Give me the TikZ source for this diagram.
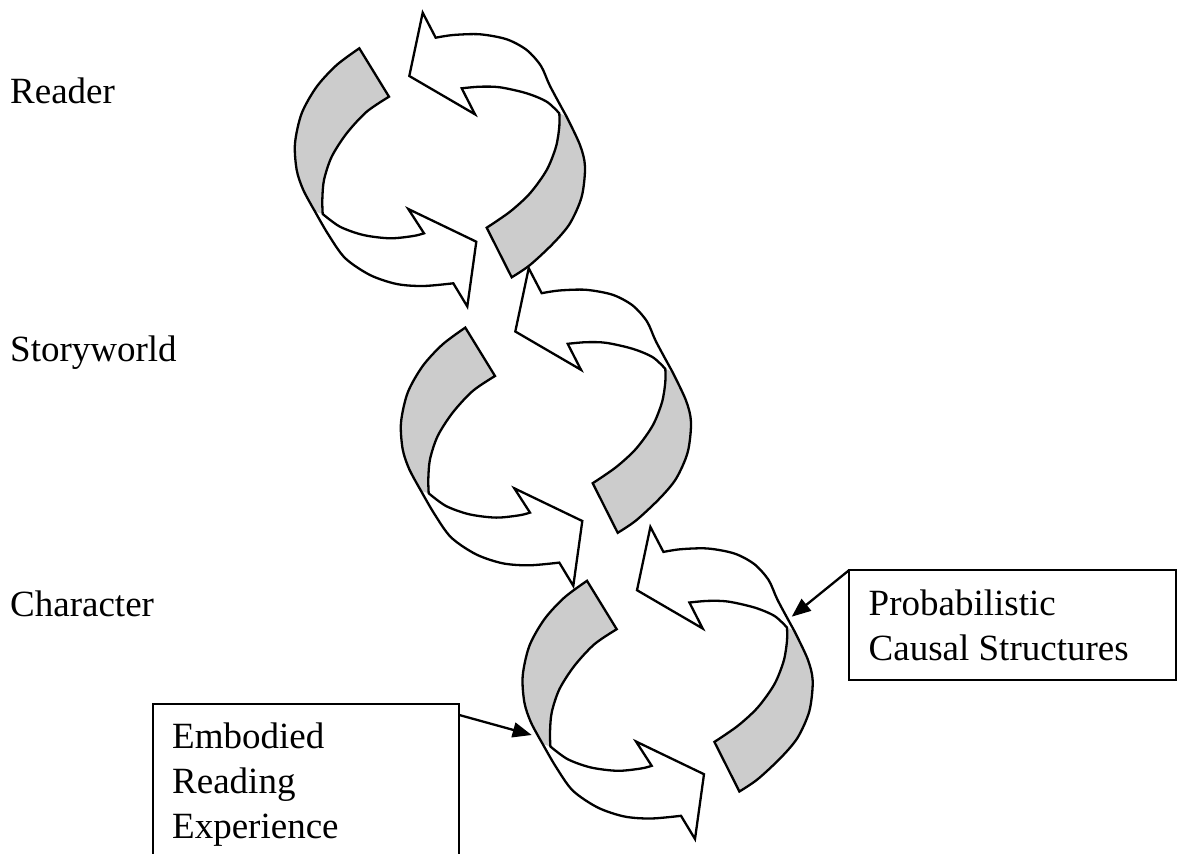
\documentclass[tikz,border=0pt]{standalone}
\usepackage{fontspec}
\setmainfont{Liberation Serif}
\usetikzlibrary{arrows.meta}
\begin{document}
\begin{tikzpicture}[x=1pt,y=-1pt,
  outl/.style={line width=2.3pt, line join=miter, miter limit=20},
  backface/.style={fill=black!20},
  lbl/.style={anchor=base west, inner sep=0pt, font=\fontsize{37}{45}\selectfont},
  conn/.style={line width=2.3pt, -{Triangle[length=19pt,width=15pt]}},
  boxline/.style={line width=1.7pt},
  arrowA/.pic={
    \fill[white] (409.3,76) -- (422.7,12.7) -- (435.7,37.7)
      -- plot[smooth] coordinates {(435.7,37.7) (453.3,35) (480,34.3) (506.7,39.3) (526.7,50) (541,66) (550,86) (566.5,116.5)}
      -- plot[smooth] coordinates {(566.5,116.5) (580,145) (585,166.7) (581.7,196.7) (570,223.3) (553.3,243.3) (530,265) (511.7,277.3)}
      -- (486.7,227.7)
      -- plot[smooth] coordinates {(486.7,227.7) (510,211.7) (530,193.3) (546.7,170) (556,146.7) (559.3,126.7) (559.3,113.3)}
      -- plot[smooth] coordinates {(559.3,113.3) (546.7,101.7) (526.7,93.3) (500,87.3) (480,86.7) (461.7,88.3)}
      -- (475,114.3) -- cycle;
    \fill[backface] (559.3,113.3) -- (566.5,116.5)
      -- plot[smooth] coordinates {(566.5,116.5) (580,145) (585,166.7) (581.7,196.7) (570,223.3) (553.3,243.3) (530,265) (511.7,277.3)}
      -- (486.7,227.7)
      -- plot[smooth] coordinates {(486.7,227.7) (510,211.7) (530,193.3) (546.7,170) (556,146.7) (559.3,126.7) (559.3,113.3)}
      -- cycle;
    \draw[outl] (409.3,76) -- (422.7,12.7) -- (435.7,37.7)
      -- plot[smooth] coordinates {(435.7,37.7) (453.3,35) (480,34.3) (506.7,39.3) (526.7,50) (541,66) (550,86) (566.5,116.5)}
      -- plot[smooth] coordinates {(566.5,116.5) (580,145) (585,166.7) (581.7,196.7) (570,223.3) (553.3,243.3) (530,265) (511.7,277.3)}
      -- (486.7,227.7)
      -- plot[smooth] coordinates {(486.7,227.7) (510,211.7) (530,193.3) (546.7,170) (556,146.7) (559.3,126.7) (559.3,113.3)}
      -- plot[smooth] coordinates {(559.3,113.3) (546.7,101.7) (526.7,93.3) (500,87.3) (480,86.7) (461.7,88.3)}
      -- (475,114.3) -- cycle;
  },
  arrowB/.pic={
    \fill[white] (359.3,48.3)
      -- plot[smooth] coordinates {(359.3,48.3) (336.7,65) (316.7,86.7) (301.7,113.3) (295,143.3) (296.7,170) (303.3,190) (315,211.5)}
      -- plot[smooth] coordinates {(315,211.5) (328,234) (345,258) (370,275) (396.7,284) (423.3,286) (453.3,283.3)}
      -- (467.3,306.5) -- (476.3,241.7) -- (408.3,209) -- (424,233.3)
      -- plot[smooth] coordinates {(424,233.3) (413.3,236) (390,238.3) (363.3,235) (340,226.7) (322.7,214)}
      -- plot[smooth] coordinates {(322.7,214) (322.3,200) (324,180) (331.7,156.7) (346.7,133.3) (366.7,111.7) (389,96.7)}
      -- cycle;
    \fill[backface] (359.3,48.3)
      -- plot[smooth] coordinates {(359.3,48.3) (336.7,65) (316.7,86.7) (301.7,113.3) (295,143.3) (296.7,170) (303.3,190) (315,211.5)}
      -- (322.7,214)
      -- plot[smooth] coordinates {(322.7,214) (322.3,200) (324,180) (331.7,156.7) (346.7,133.3) (366.7,111.7) (389,96.7)}
      -- cycle;
    \draw[outl] (359.3,48.3)
      -- plot[smooth] coordinates {(359.3,48.3) (336.7,65) (316.7,86.7) (301.7,113.3) (295,143.3) (296.7,170) (303.3,190) (315,211.5)}
      -- plot[smooth] coordinates {(315,211.5) (328,234) (345,258) (370,275) (396.7,284) (423.3,286) (453.3,283.3)}
      -- (467.3,306.5) -- (476.3,241.7) -- (408.3,209) -- (424,233.3)
      -- plot[smooth] coordinates {(424,233.3) (413.3,236) (390,238.3) (363.3,235) (340,226.7) (322.7,214)}
      -- plot[smooth] coordinates {(322.7,214) (322.3,200) (324,180) (331.7,156.7) (346.7,133.3) (366.7,111.7) (389,96.7)}
      -- cycle;
  }]
\useasboundingbox (0,0) rectangle (1178,854);

% cycles
\pic at (0,0) {arrowA};
\pic at (0,0) {arrowB};
\pic at (106,255.5) {arrowA};
\pic at (106,279.3) {arrowB};
\pic at (227.7,514.2) {arrowA};
\pic at (227.7,532.5) {arrowB};

% level labels
\node[lbl] (reader) at (10,103.3) {Reader};
\node[lbl] (story) at (10,361) {Storyworld};
\node[lbl] (char) at (10,616.7) {Character};

% Probabilistic Causal Structures callout
\node[draw, boxline, anchor=north west, inner sep=0pt, outer sep=0pt,
      minimum width=327pt, minimum height=110pt] (pcsbox) at (849.3,570) {};
\node[lbl] (pcs1) at (868.5,615) {Probabilistic};
\node[lbl] (pcs2) at (868.5,660) {Causal Structures};
\coordinate (ptip) at (791.7,616.7);
\draw[conn] (pcsbox.north west) -- (ptip);

% Embodied Reading Experience callout
\coordinate (eb1) at (152.7,854);
\coordinate (eb2) at (152.7,704);
\coordinate (eb3) at (459.3,704);
\coordinate (eb4) at (459.3,854);
\draw[boxline] (eb1) -- (eb2) -- (eb3) -- (eb4);
\node[lbl] (erd1) at (172,748.3) {Embodied};
\node[lbl] (erd2) at (172,793.3) {Reading};
\node[lbl] (erd3) at (172,838.3) {Experience};
\coordinate (estart) at (459.3,715);
\coordinate (etip) at (531.7,735);
\draw[conn] (estart) -- (etip);
\end{tikzpicture}
\end{document}
